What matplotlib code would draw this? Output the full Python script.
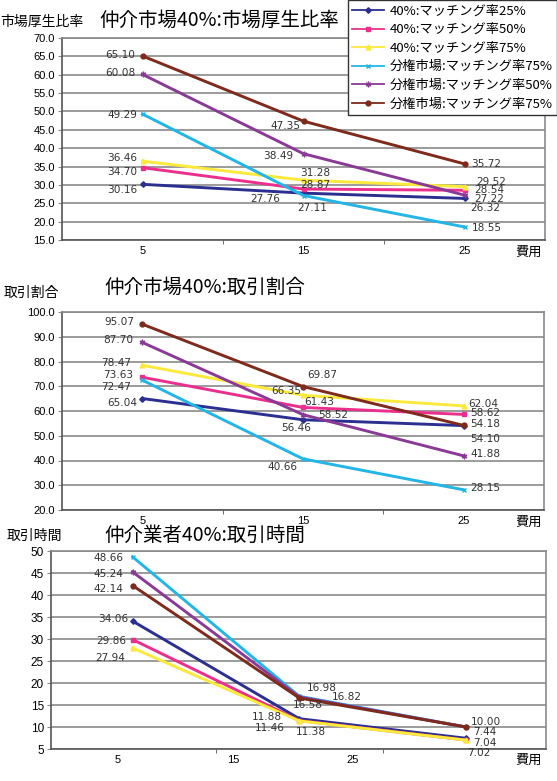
import numpy as np
import matplotlib
matplotlib.use("Agg")
import matplotlib.pyplot as plt
from matplotlib.ticker import FixedLocator, FormatStrFormatter

plt.rcParams['font.family'] = ['Noto Sans CJK JP', 'DejaVu Sans']

# ---------------------------------------------------------------
# Data
costs = ['5', '15', '25']
series_names = ['40%:マッチング率25%', '40%:マッチング率50%', '40%:マッチング率75%',
                '分権市場:マッチング率75%', '分権市場:マッチング率50%', '分権市場:マッチング率75%']

# 市場厚生比率
welfare_navy = [30.16, 27.76, 26.32]
welfare_pink = [34.70, 28.87, 28.54]
welfare_yellow = [36.46, 31.28, 29.52]
welfare_cyan = [49.29, 27.11, 18.55]
welfare_purple = [60.08, 38.49, 27.22]
welfare_brown = [65.10, 47.35, 35.72]

# 取引割合
trade_navy = [65.04, 56.46, 54.10]
trade_pink = [73.63, 61.43, 58.62]
trade_yellow = [78.47, 66.35, 62.04]
trade_cyan = [72.47, 40.66, 28.15]
trade_purple = [87.70, 58.52, 41.88]
trade_brown = [95.07, 69.87, 54.18]

# 取引時間
time_navy = [34.06, 11.88, 7.44]
time_pink = [29.86, 11.46, 7.04]
time_yellow = [27.94, 11.38, 7.02]
time_cyan = [48.66, 16.98, 10.00]
time_purple = [45.24, 16.82, 10.00]
time_brown = [42.14, 16.58, 10.00]

# ---------------------------------------------------------------
# Styles
colors = ['#2b2f8f', '#ea2f8c', '#fbe93c', '#22b5e6', '#8a3a96', '#7e2a1c']
markers = ['D', 's', '^', 'x', (6, 2, 0), 'o']
msizes = [2.8, 3.5, 3.5, 3.5, 4, 3.5]
gridColor = '#8a8a8a'
labelColor = '#333333'

# label placement per point: (ha, dx px, dy px); None = no label
welfare_lbl = [
    [('right', -5, -6), ('right', -23, -6), ('left', 6, -10)],
    [('right', -5, -4), ('left', -3, 4), ('left', 10, 0)],
    [('right', -5, 3), ('left', -3, 7), ('left', 12, 5)],
    [('right', -5, -1), ('center', 9, -12), ('left', 7, -1)],
    [('right', -7, 1), ('right', -10, -2), ('left', 10, -4)],
    [('right', -7, 1), ('right', -3, -5), ('left', 7, 0)],
]
trade_lbl = [
    [('right', -5, -4), ('center', -7, -8), ('left', 7, -13)],
    [('right', -9, 2), ('left', 1, 5), ('left', 7, 1)],
    [('right', -11, 2), ('right', -2, 4), ('left', 5, 2)],
    [('right', -11, -7), ('center', -21, -8), ('left', 7, 2)],
    [('right', -9, 2), ('left', 15, 0), ('left', 7, 2)],
    [('right', -8, 2), ('left', 4, 12), ('left', 7, 1)],
]
time_lbl = [
    [('right', -4, 2), ('right', -17, 2), ('left', 7, 6)],
    [('right', -6, -1), ('right', -15, -7), ('left', 7, -3)],
    [('right', -8, -10), ('center', 12, -11), ('left', 1, -13)],
    [('right', -9, -1), ('left', 8, 8), None],
    [('right', -9, -2), ('left', 33, 0), None],
    [('right', -9, -3), ('left', -6, -7), ('left', 5, 5)],
]

W, H = 557, 781
fig = plt.figure(figsize=(W / 100.0, H / 100.0), dpi=100, facecolor='white')


def pos(x0, x1, y0, y1):
    # pixel box -> figure fraction
    return [x0 / W, 1 - y1 / H, (x1 - x0) / W, (y1 - y0) / H]


def panel(rect, data, lbls, ylim, ystep, yfmt, xlim, xtickpos):
    ax = fig.add_axes(rect)
    x = np.arange(len(costs))
    lines = []
    for i in range(len(data)):
        ln, = ax.plot(x, data[i], color=colors[i], lw=2.1, marker=markers[i],
                      ms=msizes[i], mec=colors[i], mew=1.0, label=series_names[i])
        lines.append(ln)
        for j in range(len(x)):
            if lbls[i][j] is None:
                continue
            ha, dx, dy = lbls[i][j]
            ax.annotate('%.2f' % data[i][j], (x[j], data[i][j]),
                        xytext=(dx, dy), textcoords='offset pixels',
                        ha=ha, va='center', fontsize=7.6, color=labelColor,
                        family='DejaVu Sans', zorder=5)
    ax.set_ylim(ylim)
    ax.set_yticks(np.arange(ylim[0], ylim[1] + 0.01, ystep))
    ax.yaxis.set_major_formatter(FormatStrFormatter(yfmt))
    ax.set_xlim(xlim)
    ax.set_xticks(xtickpos)
    ax.set_xticklabels(costs)
    ax.xaxis.set_minor_locator(FixedLocator([0.5, 1.5]))
    ax.grid(axis='y', color=gridColor, lw=1.2)
    ax.set_axisbelow(True)
    for s in ['top', 'right']:
        ax.spines[s].set_color(gridColor)
        ax.spines[s].set_linewidth(1.2)
    for s in ['left', 'bottom']:
        ax.spines[s].set_color('#555555')
        ax.spines[s].set_linewidth(1.2)
    ax.tick_params(axis='y', length=3, color=gridColor, pad=2,
                   labelsize=8, labelfontfamily='Liberation Sans')
    ax.tick_params(axis='x', which='major', length=0, pad=4,
                   labelsize=8, labelfontfamily='Liberation Sans')
    ax.tick_params(axis='x', which='minor', length=3, color='#555555')
    return ax, lines


# ---------------------------------------------------------------
# 市場厚生比率
ax1, lines = panel(pos(62, 545, 38, 240),
                   [welfare_navy, welfare_pink, welfare_yellow, welfare_cyan, welfare_purple, welfare_brown],
                   welfare_lbl, (15, 70), 5, '%.1f', (-0.5, 2.5), [0, 1, 2])
fig.text(0 / W, 1 - 22 / H, '市場厚生比率', fontsize=10, ha='left', va='center')
fig.text(99 / W, 1 - 20 / H, '仲介市場40%:市場厚生比率', fontsize=14, ha='left', va='center')
fig.text(515 / W, 1 - 252 / H, '費用', fontsize=9.5, ha='left', va='center')

leg = fig.legend(handles=lines, loc='upper right', bbox_to_anchor=(1.0, 1.0),
                 fontsize=9.5, frameon=True, fancybox=False, framealpha=1,
                 edgecolor='#333333', borderaxespad=0.0, handlelength=2.4,
                 handletextpad=0.4, labelspacing=0.42, borderpad=0.35)
leg.get_frame().set_linewidth(1.0)
for h in leg.legend_handles:
    h.set_linewidth(1.3)

# 取引割合
ax2, _ = panel(pos(62, 544, 312, 510),
               [trade_navy, trade_pink, trade_yellow, trade_cyan, trade_purple, trade_brown],
               trade_lbl, (20, 100), 10, '%.1f', (-0.5, 2.5), [0, 1, 2])
fig.text(4 / W, 1 - 293 / H, '取引割合', fontsize=10, ha='left', va='center')
fig.text(104 / W, 1 - 287 / H, '仲介市場40%:取引割合', fontsize=14, ha='left', va='center')
fig.text(515 / W, 1 - 522 / H, '費用', fontsize=9.5, ha='left', va='center')

# 取引時間
ax3, _ = panel(pos(51, 546, 551, 749),
               [time_navy, time_pink, time_yellow, time_cyan, time_purple, time_brown],
               time_lbl, (5, 50), 5, '%d', (-0.49, 2.48), [-0.09, 0.605, 1.32])
ax3.tick_params(axis='y', labelsize=8.5)
fig.text(7 / W, 1 - 536 / H, '取引時間', fontsize=10, ha='left', va='center')
fig.text(104 / W, 1 - 535 / H, '仲介業者40%:取引時間', fontsize=14, ha='left', va='center')
fig.text(515 / W, 1 - 760 / H, '費用', fontsize=9.5, ha='left', va='center')

plt.savefig('out.png', dpi=100, facecolor='white')
